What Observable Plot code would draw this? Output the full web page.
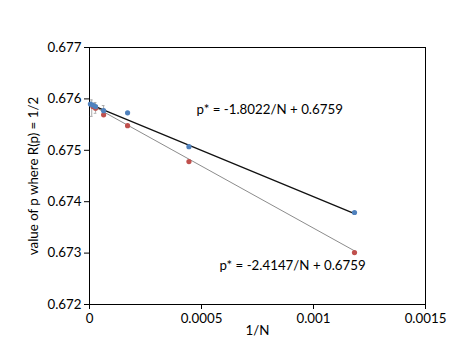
<!DOCTYPE html>
<html>
<head>
<meta charset="utf-8">
<script src="https://cdn.jsdelivr.net/npm/d3@7"></script>
<script src="https://cdn.jsdelivr.net/npm/@observablehq/plot@0.6"></script>
<style>
  html, body { margin: 0; padding: 0; background: #fff; }
  svg { font-family: Lato, "Open Sans", sans-serif; }
</style>
</head>
<body>
<div id="chart"></div>
<script>
// Series A (blue): 1/N and p*
const blueX = [0.000004, 0.000015, 0.000027, 0.000063, 0.00017, 0.000444, 0.001183];
const blueY = [0.67590, 0.67588, 0.67585, 0.67577, 0.67573, 0.67507, 0.67379];
// Series B (red)
const redX = [0.000015, 0.000027, 0.000063, 0.00017, 0.000444, 0.001183];
const redY = [0.67585, 0.67582, 0.67569, 0.67548, 0.67478, 0.67301];
// Error bars (gray)
const errX = [0.00001, 0.000027, 0.000063];
const errLo = [0.67566, 0.67572, 0.67570];
const errHi = [0.67598, 0.67593, 0.67587];
// Linear fits
const fitBlue = {slope: -1.8022, intercept: 0.6759};
const fitRed = {slope: -2.4147, intercept: 0.6759};
const fitRange = [0, 0.001183];
// Tick labels
const xTicks = [0, 0.0005, 0.001, 0.0015];
const yTicks = [0.672, 0.673, 0.674, 0.675, 0.676, 0.677];
// Annotations
const labels = ["p* = -1.8022/N + 0.6759", "p* = -2.4147/N + 0.6759"];
const labelX = [0.000478, 0.00058];
const labelY = [0.67579, 0.67276];

const blue = blueX.map((x, i) => ({x, y: blueY[i]}));
const red = redX.map((x, i) => ({x, y: redY[i]}));
const errs = errX.map((x, i) => ({x, lo: errLo[i], hi: errHi[i]}));
const capW = 0.000006;
const lineOf = f => fitRange.map(x => ({x, y: f.intercept + f.slope * x}));
const ann = labels.map((t, i) => ({t, x: labelX[i], y: labelY[i]}));
const FS = 13.3;

const chart = Plot.plot({
  width: 471,
  height: 364,
  marginLeft: 89,
  marginRight: 46,
  marginTop: 47,
  marginBottom: 60,
  style: {fontSize: FS + "px", color: "#000", background: "#fff"},
  x: {type: "linear", domain: [0, 0.0015], label: null},
  y: {type: "linear", domain: [0.672, 0.677], label: null},
  marks: [
    Plot.frame({stroke: "#000", strokeWidth: 1}),
    Plot.axisX({ticks: xTicks, tickFormat: d => String(d), tickSize: 5, tickPadding: 4, fontSize: FS, stroke: "#000", label: null}),
    Plot.axisY({ticks: yTicks, tickFormat: d => d.toFixed(3), tickSize: 5, tickPadding: 3, fontSize: FS, stroke: "#000", label: null}),
    Plot.ruleX(errs, {x: "x", y1: "lo", y2: "hi", stroke: "#aaa", strokeWidth: 1}),
    Plot.ruleY(errs, {y: "lo", x1: d => d.x - capW, x2: d => d.x + capW, stroke: "#aaa", strokeWidth: 1}),
    Plot.ruleY(errs, {y: "hi", x1: d => d.x - capW, x2: d => d.x + capW, stroke: "#aaa", strokeWidth: 1}),
    Plot.line(lineOf(fitRed), {x: "x", y: "y", stroke: "#8c8c8c", strokeWidth: 1}),
    Plot.line(lineOf(fitBlue), {x: "x", y: "y", stroke: "#111", strokeWidth: 1.3}),
    Plot.dot(red, {x: "x", y: "y", r: 2.6, fill: "#C0504D", stroke: "none"}),
    Plot.dot(blue, {x: "x", y: "y", r: 2.6, fill: "#4F81BD", stroke: "none"}),
    Plot.text(ann, {x: "x", y: "y", text: "t", textAnchor: "start", fontSize: FS, fill: "#000"}),
    Plot.text(["1/N"], {frameAnchor: "bottom", dy: 30, fontSize: FS, fill: "#000"}),
    Plot.text(["value of p where R(p) = 1/2"], {frameAnchor: "left", textAnchor: "middle", dx: -56, rotate: -90, fontSize: FS, fill: "#000"})
  ]
});
document.getElementById("chart").appendChild(chart);
</script>
</body>
</html>
